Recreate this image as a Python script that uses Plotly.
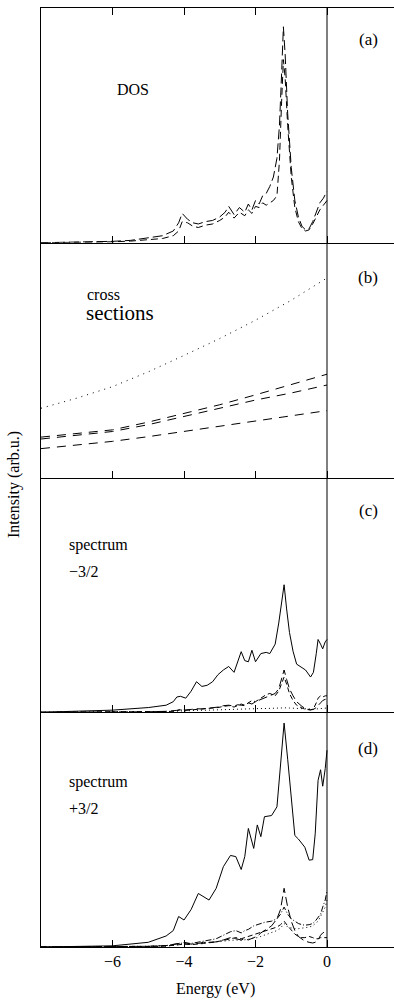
import plotly.graph_objects as go
from plotly.subplots import make_subplots

# ---------------- data ----------------
# panel (a): DOS
E_a = [-8, -7, -6, -5.5, -5, -4.6, -4.3, -4.15, -4.05, -3.9, -3.75, -3.6, -3.4, -3.2, -3.0,
       -2.85, -2.75, -2.6, -2.45, -2.3, -2.2, -2.1, -2.0, -1.9, -1.8, -1.7, -1.6, -1.5, -1.4,
       -1.33, -1.27, -1.22, -1.17, -1.1, -1.0, -0.9, -0.8, -0.7, -0.6, -0.5, -0.4, -0.3, -0.2, -0.1, 0]
dos_1 = [0, 0.002, 0.006, 0.01, 0.02, 0.03, 0.05, 0.085, 0.125, 0.10, 0.085, 0.08, 0.09, 0.095, 0.11,
         0.13, 0.155, 0.12, 0.15, 0.13, 0.165, 0.14, 0.18, 0.165, 0.2, 0.21, 0.24, 0.28, 0.36,
         0.5, 0.72, 0.92, 0.80, 0.55, 0.32, 0.18, 0.11, 0.07, 0.055, 0.06, 0.09, 0.13, 0.17, 0.19, 0.22]
dos_2 = [0, 0.001, 0.004, 0.007, 0.012, 0.018, 0.03, 0.05, 0.09, 0.085, 0.07, 0.065, 0.075, 0.08, 0.095,
         0.11, 0.13, 0.105, 0.13, 0.115, 0.14, 0.125, 0.155, 0.15, 0.17, 0.16, 0.17, 0.18, 0.2,
         0.35, 0.6, 0.78, 0.7, 0.5, 0.28, 0.15, 0.09, 0.06, 0.05, 0.055, 0.08, 0.11, 0.14, 0.16, 0.18]

# panel (b): cross sections
E_b = [-8, -7, -6, -5, -4, -3, -2, -1, 0]
cs_dot = [0.295, 0.338, 0.387, 0.45, 0.52, 0.592, 0.67, 0.755, 0.85]
cs_d1 = [0.172, 0.186, 0.203, 0.236, 0.274, 0.31, 0.352, 0.395, 0.44]
cs_d2 = [0.164, 0.18, 0.196, 0.225, 0.26, 0.293, 0.33, 0.36, 0.394]
cs_d3 = [0.123, 0.138, 0.154, 0.174, 0.196, 0.216, 0.239, 0.262, 0.285]

# panel (c): spectrum -3/2
E_c = [-8, -7, -6, -5, -4.5, -4.3, -4.2, -4.1, -3.95, -3.8, -3.65, -3.5, -3.35, -3.2, -3.05,
       -2.9, -2.75, -2.6, -2.5, -2.4, -2.3, -2.2, -2.1, -2.0, -1.85, -1.7, -1.6, -1.45, -1.35,
       -1.27, -1.2, -1.13, -1.05, -0.95, -0.85, -0.7, -0.6, -0.46, -0.38, -0.3, -0.25, -0.18, -0.12, -0.05, 0]
spec_m = [0, 0.003, 0.009, 0.02, 0.03, 0.045, 0.065, 0.068, 0.06, 0.09, 0.13, 0.11, 0.115, 0.13, 0.16,
          0.18, 0.195, 0.17, 0.21, 0.258, 0.22, 0.215, 0.264, 0.215, 0.25, 0.255, 0.25, 0.29, 0.38,
          0.47, 0.543, 0.44, 0.34, 0.26, 0.205, 0.19, 0.18, 0.15, 0.17, 0.25, 0.31, 0.29, 0.27, 0.30, 0.31]
spec_m_ld = [0, 0, 0, 0.002, 0.004, 0.006, 0.008, 0.012, 0.01, 0.012, 0.015, 0.014, 0.016, 0.018, 0.022,
             0.028, 0.03, 0.026, 0.032, 0.03, 0.028, 0.04, 0.035, 0.045, 0.055, 0.065, 0.07, 0.08, 0.1,
             0.14, 0.18, 0.14, 0.1, 0.07, 0.045, 0.025, 0.015, 0.01, 0.012, 0.02, 0.03, 0.04, 0.05, 0.055, 0.055]
spec_m_d = [0, 0, 0, 0.001, 0.003, 0.004, 0.006, 0.01, 0.008, 0.01, 0.012, 0.012, 0.014, 0.016, 0.02,
            0.025, 0.028, 0.022, 0.03, 0.035, 0.03, 0.04, 0.05, 0.045, 0.06, 0.075, 0.08, 0.07, 0.09,
            0.12, 0.15, 0.12, 0.08, 0.05, 0.03, 0.018, 0.012, 0.01, 0.015, 0.04, 0.06, 0.07, 0.065, 0.07, 0.07]
spec_m_dot = [0, 0, 0.001, 0.002, 0.003, 0.004, 0.005, 0.006, 0.006, 0.007, 0.008, 0.008, 0.009, 0.01, 0.01,
              0.011, 0.012, 0.012, 0.013, 0.013, 0.014, 0.014, 0.015, 0.015, 0.016, 0.016, 0.017, 0.018, 0.018,
              0.019, 0.02, 0.019, 0.018, 0.017, 0.016, 0.015, 0.014, 0.013, 0.013, 0.014, 0.015, 0.016, 0.016, 0.017, 0.018]

# panel (d): spectrum +3/2
E_d = [-8, -7, -6, -5, -4.5, -4.3, -4.15, -4.0, -3.8, -3.6, -3.45, -3.3, -3.1, -2.9, -2.7, -2.55,
       -2.4, -2.3, -2.2, -2.05, -1.95, -1.85, -1.75, -1.55, -1.4, -1.3, -1.2, -1.1, -1.0, -0.9,
       -0.8, -0.7, -0.62, -0.5, -0.4, -0.33, -0.25, -0.18, -0.12, -0.05, 0]
spec_p = [0, 0.002, 0.005, 0.02, 0.047, 0.07, 0.13, 0.115, 0.16, 0.228, 0.214, 0.2, 0.25, 0.342, 0.39, 0.385,
          0.33, 0.385, 0.505, 0.42, 0.52, 0.47, 0.555, 0.56, 0.597, 0.767, 0.954, 0.80, 0.632, 0.475,
          0.46, 0.44, 0.425, 0.37, 0.372, 0.482, 0.71, 0.755, 0.685, 0.76, 0.838]
spec_p_ld = [0, 0, 0.001, 0.003, 0.006, 0.01, 0.015, 0.02, 0.012, 0.015, 0.02, 0.018, 0.022, 0.03, 0.04, 0.035,
             0.03, 0.035, 0.03, 0.04, 0.045, 0.06, 0.07, 0.09, 0.12, 0.16, 0.25, 0.17, 0.11, 0.07,
             0.045, 0.032, 0.025, 0.02, 0.017, 0.02, 0.03, 0.05, 0.06, 0.065, 0.07]
spec_p_dd = [0, 0, 0.001, 0.003, 0.006, 0.01, 0.014, 0.018, 0.015, 0.02, 0.025, 0.03, 0.035, 0.05, 0.065, 0.07,
             0.06, 0.07, 0.075, 0.09, 0.095, 0.1, 0.105, 0.11, 0.12, 0.14, 0.17, 0.14, 0.12, 0.11,
             0.1, 0.095, 0.093, 0.095, 0.1, 0.11, 0.128, 0.14, 0.17, 0.2, 0.24]
spec_p_d = [0, 0, 0.001, 0.002, 0.004, 0.007, 0.01, 0.012, 0.01, 0.012, 0.015, 0.02, 0.022, 0.028, 0.035, 0.04,
            0.035, 0.04, 0.045, 0.05, 0.055, 0.06, 0.065, 0.075, 0.085, 0.095, 0.11, 0.09, 0.07, 0.055,
            0.045, 0.04, 0.04, 0.045, 0.04, 0.035, 0.035, 0.04, 0.04, 0.04, 0.04]
spec_p_dot = [0, 0, 0.001, 0.002, 0.004, 0.006, 0.01, 0.015, 0.012, 0.015, 0.018, 0.02, 0.022, 0.025, 0.028, 0.03,
              0.028, 0.03, 0.032, 0.035, 0.04, 0.045, 0.05, 0.06, 0.07, 0.08, 0.1, 0.085, 0.08, 0.078,
              0.078, 0.08, 0.082, 0.085, 0.09, 0.1, 0.11, 0.13, 0.15, 0.17, 0.2]

x_ticks = [-6, -4, -2, 0]
panel_tags = ["(a)", "(b)", "(c)", "(d)"]

# ---------------- figure ----------------
FONT = "'Times New Roman', 'Liberation Serif', Tinos, 'DejaVu Serif', serif"
fig = make_subplots(rows=4, cols=1, shared_xaxes=True, vertical_spacing=0)

def line(x, y, dash, row, width=1):
    fig.add_trace(go.Scatter(x=x, y=y, mode="lines",
                             line=dict(color="black", width=width, dash=dash),
                             hoverinfo="skip", showlegend=False), row=row, col=1)

line(E_a, dos_1, "10px,4px", 1)
line(E_a, dos_2, "7px,4px", 1)

line(E_b, cs_dot, "1px,5px", 2)
line(E_b, cs_d1, "9px,7px", 2)
line(E_b, cs_d2, "9px,7px", 2)
line(E_b, cs_d3, "9px,7px", 2)

line(E_c, spec_m, "solid", 3)
line(E_c, spec_m_ld, "9px,4px", 3)
line(E_c, spec_m_d, "5px,3px", 3)
line(E_c, spec_m_dot, "1px,3px", 3)

line(E_d, spec_p, "solid", 4)
line(E_d, spec_p_ld, "9px,4px", 4)
line(E_d, spec_p_dd, "6px,2px,1px,2px", 4)
line(E_d, spec_p_d, "5px,3px", 4)
line(E_d, spec_p_dot, "1px,3px", 4)

for r in range(1, 5):
    fig.update_xaxes(range=[-8, 1.874], tickvals=x_ticks, ticks="inside", ticklen=7,
                     tickcolor="black", tickwidth=1, showline=True, linecolor="black",
                     linewidth=1, showgrid=False, zeroline=False,
                     mirror="allticks" if r == 1 else False,
                     tickfont=dict(family=FONT, size=16, color="black"),
                     row=r, col=1)
    fig.update_yaxes(range=[0, 1], showline=True, linecolor="black", linewidth=1,
                     ticks="", showticklabels=False, showgrid=False, zeroline=False,
                     row=r, col=1)

# vertical line at E = 0
fig.add_shape(type="line", xref="x", yref="paper", x0=0, x1=0, y0=0, y1=1,
              line=dict(color="black", width=1))

TOP, BOT = 8, 947
H = BOT - TOP

def py(pix):
    return (BOT - pix) / H

def px(pix):
    return (pix - 41) / (394 - 41)

annots = []
for tag, yy in zip(panel_tags, [40, 277, 510, 748]):
    annots.append(dict(text=tag, x=px(368), y=py(yy), size=17))
annots += [
    dict(text="DOS", x=px(133), y=py(89), size=16),
]
for a in annots:
    fig.add_annotation(text=a["text"], xref="paper", yref="paper", x=a["x"], y=a["y"],
                       xanchor="center", yanchor="middle", showarrow=False,
                       font=dict(family=FONT, size=a["size"], color="black"))

left_texts = [("cross", 85, 294, 16), ("sections", 84, 313, 21),
              ("spectrum", 67, 545, 16), ("\u22123/2", 67, 571, 16),
              ("spectrum", 67, 782, 16), ("+3/2", 67, 808, 16)]
for t, xx, yy, s in left_texts:
    fig.add_annotation(text=t, xref="paper", yref="paper", x=px(xx), y=py(yy),
                       xanchor="left", yanchor="middle", showarrow=False,
                       font=dict(family=FONT, size=s, color="black"))

fig.add_annotation(text="Energy (eV)", xref="paper", yref="paper", x=px(215), y=py(989),
                   xanchor="center", yanchor="middle", showarrow=False,
                   font=dict(family=FONT, size=16, color="black"))
fig.add_annotation(text="Intensity (arb.u.)", xref="paper", yref="paper", x=px(14), y=py(485),
                   xanchor="center", yanchor="middle", showarrow=False, textangle=-90,
                   font=dict(family=FONT, size=16, color="black"))

fig.update_layout(width=394, height=1000, margin=dict(l=41, r=0, t=TOP, b=1000 - BOT),
                  paper_bgcolor="white", plot_bgcolor="white", showlegend=False,
                  font=dict(family=FONT, color="black"))

fig.write_html("out.html")
